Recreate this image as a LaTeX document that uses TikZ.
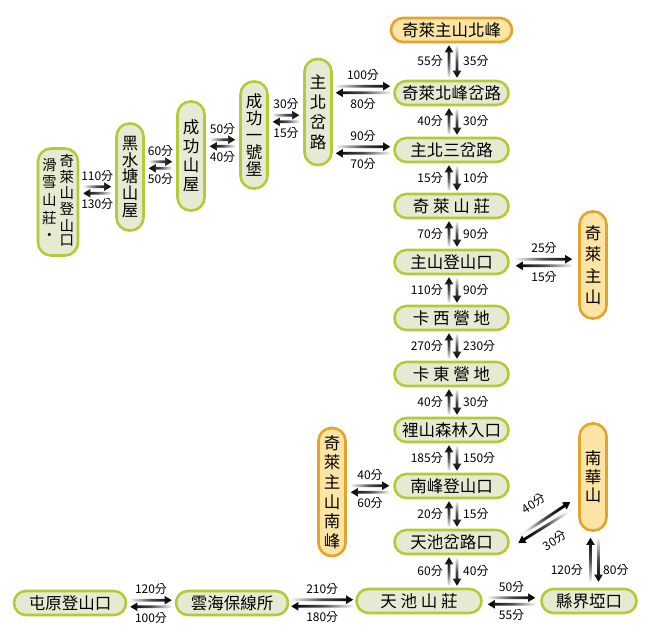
\documentclass[tikz,border=0pt]{standalone}
\usepackage{fontspec}
\setmainfont{Noto Sans CJK TC}
\usetikzlibrary{calc}
\definecolor{gborder}{HTML}{B3CB38}
\definecolor{gfill}{HTML}{E7EAD2}
\definecolor{oborder}{HTML}{E3A32C}
\definecolor{ofill}{HTML}{FCE4A4}
\tikzset{
  box/.style={line width=2.6pt, inner sep=0pt},
  gbox/.style={box, draw=gborder, fill=gfill},
  obox/.style={box, draw=oborder, fill=ofill},
  hsize/.style={minimum width=#1, minimum height=24pt, rounded corners=12pt, font=\fontsize{16.5}{18}\selectfont},
  vsize/.style 2 args={minimum width=27pt, minimum height=#1, rounded corners=13pt, align=center, font=\fontsize{16.5}{#2}\selectfont},
  lab/.style={inner sep=0pt, font=\fontsize{12}{13}\selectfont},
}
% shaded arrow from #1 to #2
\newcommand\garr[2]{%
  \coordinate (ga) at #1;
  \coordinate (gb) at #2;
  \pgfmathanglebetweenpoints{\pgfpointanchor{ga}{center}}{\pgfpointanchor{gb}{center}}%
  \pgfmathsetmacro\gsang{\pgfmathresult+90}%
  \coordinate (gh) at ($(gb)!7pt!(ga)$);
  \shade[top color=black!4, bottom color=black, middle color=black!70, shading angle=\gsang]
    ($(ga)!1.4pt!90:(gb)$) -- ($(gh)!1.4pt!90:(gb)$) -- ($(gh)!4.3pt!90:(gb)$) -- (gb)
    -- ($(gh)!4.3pt!-90:(gb)$) -- ($(gh)!1.4pt!-90:(gb)$) -- ($(ga)!1.4pt!-90:(gb)$) -- cycle;
}
% vertical pair: top node, bottom node, left label (up), right label (down)
\newcommand\vpair[5][2]{%
  \coordinate (vt) at (#2.south);
  \coordinate (vb) at (#2.south |- #3.north);
  \garr{($(vb)+(-2.5,-#1)$)}{($(vt)+(-2.5,#1)$)}
  \garr{($(vt)+(5.5,#1)$)}{($(vb)+(5.5,-#1)$)}
  \node[lab, anchor=east] at ($(vt)!.5!(vb)+(-8.5,0)$) {#4};
  \node[lab, anchor=west] at ($(vt)!.5!(vb)+(11.5,0)$) {#5};
}
% horizontal pair: left node, right node, y, top label (right), bottom label (left)
\newcommand\hpair[6][3]{%
  \coordinate (hl) at (#2.east |- 0,#4);
  \coordinate (hr) at (#3.west |- 0,#4);
  \garr{($(hl)+(#1,-3.3)$)}{($(hr)+(-#1,-3.3)$)}
  \garr{($(hr)+(-#1,3.3)$)}{($(hl)+(#1,3.3)$)}
  \node[lab] at ($(hl)!.5!(hr)+(0,-14)$) {#5};
  \node[lab] at ($(hl)!.5!(hr)+(0,14.5)$) {#6};
}
\begin{document}
\begin{tikzpicture}[x=1pt, y=-1pt]
\useasboundingbox (0,0) rectangle (667,634);
\fill[white] (0,0) rectangle (667,634);

% main column
\node[obox, hsize=121pt] (nbf) at (451.5,30) {奇萊主山北峰};
\node[gbox, hsize=114pt] (nbc) at (451.5,93) {奇萊北峰岔路};
\node[gbox, hsize=114pt] (zbs) at (451.5,150) {主北三岔路};
\node[gbox, hsize=114pt] (qls) at (451.5,206) {奇 萊 山 莊};
\node[gbox, hsize=114pt] (zsd) at (451.5,262) {主山登山口};
\node[gbox, hsize=114pt] (kx) at (451.5,318) {卡 西 營 地};
\node[gbox, hsize=114pt] (kd) at (451.5,374) {卡 東 營 地};
\node[gbox, hsize=114pt] (ls) at (451.5,430) {裡山森林入口};
\node[gbox, hsize=114pt] (nf) at (451.5,486) {南峰登山口};
\node[gbox, hsize=114pt] (tc) at (451.5,542) {天池岔路口};
\node[gbox, hsize=125pt] (tcs) at (419,601) {天 池 山 莊};
\node[gbox, hsize=95pt] (xj) at (589,601) {縣界埡口};
\node[gbox, hsize=112pt] (yh) at (232,603) {雲海保線所};
\node[gbox, hsize=112pt] (ty) at (70,603) {屯原登山口};

% vertical nodes
\node[obox, vsize={107pt}{21.5}] (qz) at (593,265) {奇\\萊\\主\\山};
\node[obox, vsize={107pt}{18.5}] (nh) at (593,477) {南\\華\\山};
\node[obox, vsize={128pt}{19.6}] (qzn) at (332,492) {奇\\萊\\主\\山\\南\\峰};
\node[gbox, vsize={106pt}{20}] (zb) at (318,112) {主\\北\\岔\\路};
\node[gbox, vsize={107pt}{17}] (cy) at (254,135) {成\\功\\一\\號\\堡};
\node[gbox, vsize={109pt}{19}] (cs) at (191,156) {成\\功\\山\\屋};
\node[gbox, vsize={107pt}{16.7}] (hs) at (130,177) {黑\\水\\塘\\山\\屋};
\node[gbox, vsize={107pt}{18}, minimum width=40pt] (qd) at (58,202)
  {{\fontsize{14.5}{17.7}\selectfont\begin{tabular}{@{}c@{}}滑\\雪\\山\\莊\\·\end{tabular}}\hspace{3pt}{\fontsize{14.5}{13.8}\selectfont\begin{tabular}{@{}c@{}}奇\\萊\\山\\登\\山\\口\end{tabular}}};

% vertical connectors
\vpair{nbf}{nbc}{55分}{35分}
\vpair{nbc}{zbs}{40分}{30分}
\vpair{zbs}{qls}{15分}{10分}
\vpair{qls}{zsd}{70分}{90分}
\vpair{zsd}{kx}{110分}{90分}
\vpair{kx}{kd}{270分}{230分}
\vpair{kd}{ls}{40分}{30分}
\vpair{ls}{nf}{185分}{150分}
\vpair{nf}{tc}{20分}{15分}
\vpair{tc}{tcs}{60分}{40分}

% 南華山 - 縣界埡口
\coordinate (nt) at (nh.south);
\coordinate (nb) at (nh.south |- xj.north);
\garr{($(nb)+(-2.5,-6)$)}{($(nt)+(-2.5,6)$)}
\garr{($(nt)+(5.5,6)$)}{($(nb)+(5.5,-6)$)}
\node[lab, anchor=east] at ($(nt)!.5!(nb)+(-10,10)$) {120分};
\node[lab, anchor=west] at ($(nt)!.5!(nb)+(10,10)$) {80分};

% horizontal connectors
\hpair[4]{qd}{hs}{190}{110分}{130分}
\hpair[4]{hs}{cs}{165}{60分}{50分}
\hpair[4]{cs}{cy}{143}{50分}{40分}
\hpair[4]{cy}{zb}{118.5}{30分}{15分}
\hpair[3]{zb}{nbc}{89.5}{100分}{80分}
\hpair[3]{zb}{zbs}{150}{90分}{70分}
\hpair[6]{zsd}{qz}{262.5}{25分}{15分}
\hpair[4]{qzn}{nf}{489}{40分}{60分}
\hpair[5]{tcs}{xj}{601}{50分}{55分}
\hpair[2]{yh}{tcs}{603}{210分}{180分}
\hpair[3]{ty}{yh}{603.5}{120分}{100分}

% diagonal connector
\garr{($(tc.east)+(9.5,-6)$)}{($(nh.west)+(-8,25)$)}
\garr{($(nh.west)+(-5,32)$)}{($(tc.east)+(8.5,1)$)}
\coordinate (dm) at ($(tc.east)!.5!(nh.west)+(0,13)$);
\node[lab, rotate=33] at ($(dm)+(-10,-19)$) {40分};
\node[lab, rotate=33] at ($(dm)+(11,18)$) {30分};
\end{tikzpicture}
\end{document}
